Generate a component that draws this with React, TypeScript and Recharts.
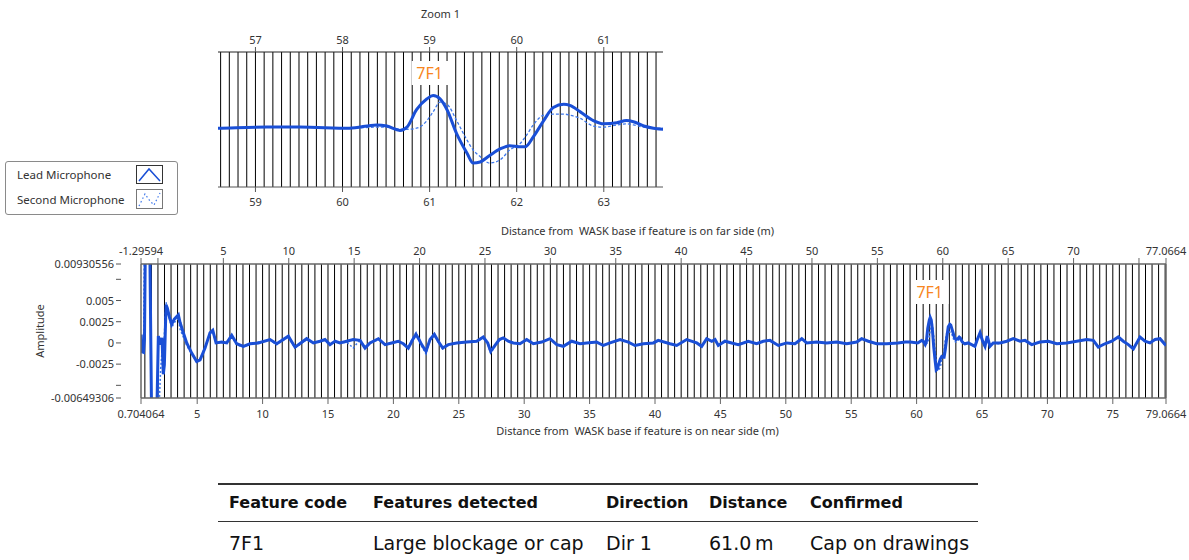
import { LineChart, Line, XAxis, YAxis, CartesianGrid, ReferenceLine, Label } from 'recharts';

// distance from WASK base, near side (m)
const distance = [
    0.72, 0.78, 0.9, 0.97, 1.05, 1.36, 1.52, 1.9, 2.03, 2.21, 2.31, 2.41, 2.49, 2.62, 2.72, 2.87, 3.05, 3.25, 3.56, 3.69, 3.94, 4.2, 4.58, 4.96, 5.22, 5.6, 5.98, 6.19, 6.44, 6.87, 7.26, 7.64, 8.02, 8.53, 9.04, 9.67,
    10.57, 11.08, 11.97, 12.48, 13.37, 13.88, 14.39, 14.77, 15.15, 15.54, 15.92, 16.43, 16.93, 17.45, 17.83, 18.21, 18.85, 19.36, 19.87,
    20.37, 20.76, 21.14, 21.48, 21.73, 21.96, 22.16, 22.49, 22.8, 23.13, 23.43, 23.77, 24.2, 24.84, 25.6, 26.37, 26.87, 27.21, 27.44, 27.77, 28.1, 28.4, 28.78, 29.17, 29.68,
    30.19, 30.7, 31.34, 31.97, 32.49, 32.99, 33.63, 34.27, 34.78, 35.54, 36.05, 36.56, 37.33, 37.96, 38.47, 39.11, 39.87,
    40.25, 41.15, 41.66, 42.42, 43.19, 43.57, 43.95, 44.34, 44.59, 44.84, 45.35, 45.86, 46.37, 47.13, 47.77, 48.28, 48.79, 49.43,
    50.07, 50.7, 51.22, 51.6, 52.36, 53.13, 53.89, 54.66, 55.42, 55.8, 56.31, 56.95, 57.71,
    58.57, 59.13, 59.51, 60.08, 60.39, 60.51, 60.66, 60.74, 60.85, 60.97, 61.04, 61.12, 61.2, 61.31, 61.43, 61.5, 61.58, 61.69, 61.81, 61.92, 62.04, 62.1, 62.19, 62.31, 62.42, 62.54, 62.61, 62.73, 62.88, 63.0, 63.15, 63.26, 63.34, 63.46, 63.57, 63.68,
    63.95, 64.46, 64.64, 64.85, 65.05, 65.23, 65.4, 65.61, 65.86, 66.38, 66.89, 67.39, 67.91, 68.29, 68.8, 69.43,
    70.07, 70.71, 71.48, 72.24, 73.0, 73.51, 73.89, 74.4, 74.92, 75.42, 75.8, 76.19, 76.57, 77.08, 77.46, 77.84, 78.23, 78.61, 79.06,
];

const leadMic = [
    0.001, -0.001, -0.0011, 0.0004, 0.014, 0.014, -0.0095, -0.0095, 0.0008, -0.0002, 0.0006, -0.0037, -0.0026, 0.0045, 0.0041, 0.0031, 0.0022, 0.0028, 0.0033, 0.0024, 0.0012, 0, -0.0012, -0.0022, -0.002, -0.0006, 0.0012, 0.0015, 0, 0.0001, 0, 0.0009, -0.0001, -0.0004, -0.0001, 0,
    0.0004, -0.0001, 0.0008, -0.0005, 0.0005, 0, 0.0002, 0.0004, -0.0002, 0.0002, 0, 0.0002, 0.0004, 0.0003, -0.0006, 0, 0.0005, -0.0002, 0,
    0.0002, -0.0001, -0.0006, 0.0004, 0.001, 0.0004, -0.0002, -0.001, 0.0004, 0.001, 0.0002, -0.0006, -0.0002, 0, 0.0001, 0.0002, 0.0007, 0, -0.001, -0.0003, 0.0004, 0.0006, 0.0002, 0, -0.0001,
    0.0004, -0.0001, 0.0001, 0.0005, -0.0002, -0.0004, 0.0002, -0.0001, 0, 0.0001, -0.0003, 0, 0.0004, 0.0001, -0.0003, -0.0001, 0,
    0.0003, -0.0001, -0.0003, 0.0004, 0, -0.0004, 0.0005, 0.0002, 0.0004, -0.0003, 0.0002, 0, -0.0002, 0.0002, -0.0001, 0.0002, 0.0003, -0.0003,
    0, -0.0001, 0.0005, 0, 0.0001, 0, 0.0001, -0.0001, 0.0001, 0.0005, 0.0002, -0.0001, -0.0001,
    0, 0.0001, 0.0001, 0, 0.0003, 0.0002, -0.0002, 0.0001, 0.0017, 0.0027, 0.003, 0.0027, 0.0017, -0.0005, -0.0023, -0.0032, -0.0031, -0.0025, -0.0019, -0.0016, -0.0017, -0.0017, -0.0008, 0.0007, 0.0019, 0.0022, 0.0021, 0.0015, 0.0007, 0.0004, 0.0005, 0.0007, 0.0006, 0.0002, 0, -0.0001,
    0, -0.0004, 0.0004, 0.0012, 0.0002, -0.0004, 0.0008, -0.0004, 0, 0, 0.0002, 0.0005, 0.0002, 0.0003, -0.0002, 0.0001,
    0.0002, -0.0001, 0, 0.0002, 0.0004, 0.0003, -0.0005, -0.0001, 0.0002, 0.0007, 0.0002, -0.0002, -0.0007, 0.0007, 0.0002, 0, 0.0004, 0.0005, -0.0003,
];

const secondMic = [
    0.0008, -0.0012, -0.0008, 0.014, 0.014, 0.014, -0.0095, -0.0095, -0.0095, -0.003, -0.001, -0.0032, 0.001, 0.0048, 0.0038, 0.0029, 0.0018, 0.0024, 0.0029, 0.0016, 0.0007, -0.0003, -0.0013, -0.0021, -0.0019, -0.0005, 0.0011, 0.0013, 0.0001, 0, 0.0001, 0.0008, -0.0002, -0.0005, -0.0001, 0.0001,
    0.0003, -0.0002, 0.0007, -0.0006, 0.0004, 0, 0.0002, 0.0003, -0.0003, 0.0002, 0, 0.0001, -0.0006, 0.0004, -0.0005, 0, 0.0004, -0.0002, 0.0001,
    0.0002, -0.0001, -0.0005, 0.0006, 0.0012, 0.0003, -0.0004, -0.0013, 0.0003, 0.0011, 0.0001, -0.0007, -0.0002, 0, 0.0001, 0.0002, 0.0006, -0.0002, -0.0012, -0.0004, 0.0003, 0.0006, 0.0002, 0, -0.0001,
    0.0003, -0.0001, 0.0001, 0.0005, -0.0002, -0.0005, 0.0002, -0.0001, 0, 0.0001, -0.0003, 0, 0.0004, 0.0001, -0.0003, -0.0001, 0,
    0.0003, -0.0001, -0.0003, 0.0004, 0, -0.0004, 0.0004, 0.0002, 0.0004, -0.0003, 0.0002, 0, -0.0002, 0.0002, -0.0001, 0.0002, 0.0003, -0.0003,
    0, -0.0002, 0.0005, 0, 0.0001, 0, 0.0001, -0.0001, 0.0001, 0.0005, 0.0002, -0.0001, -0.0001,
    0, 0.0001, 0.0001, 0, 0.0001, 0.0001, -0.0001, -0.0001, 0, 0.0007, 0.0015, 0.0024, 0.0022, 0.0007, -0.0011, -0.002, -0.0026, -0.0032, -0.0029, -0.002, -0.0014, -0.0008, 0.0003, 0.0012, 0.0013, 0.0013, 0.0012, 0.0009, 0.0002, 0.0001, 0.0003, 0.0004, 0.0003, 0.0001, 0, 0,
    0, -0.0005, 0.0003, 0.001, 0.0001, -0.0006, 0.0007, -0.0003, 0, -0.0001, 0.0002, 0.0005, 0.0002, 0.0003, -0.0002, 0.0001,
    0.0002, -0.0001, 0, 0.0002, 0.0004, 0.0003, -0.0004, -0.0001, 0.0002, 0.0006, 0.0002, -0.0002, -0.0006, 0.0006, 0.0002, 0, 0.0004, 0.0005, -0.0004,
];

// axes
const nearDomain: [number, number] = [0.704064, 79.0664];
const farDomain: [number, number] = [-1.29594, 77.0664];
const nearTicks = [0.704064, 5, 10, 15, 20, 25, 30, 35, 40, 45, 50, 55, 60, 65, 70, 75, 79.0664];
const farTicks = [-1.29594, 0, 5, 10, 15, 20, 25, 30, 35, 40, 45, 50, 55, 60, 65, 70, 75, 77.0664];
const farTicksUnlabelled = [0, 75];
const ampDomain: [number, number] = [-0.00649306, 0.00930556];
const ampTicks = [-0.00649306, -0.005, -0.0025, 0, 0.0025, 0.005, 0.0075, 0.00930556];
const ampTicksUnlabelled = [-0.005, 0.0075];

const zoomNearDomain: [number, number] = [58.57, 63.68];
const zoomFarDomain: [number, number] = [56.57, 61.68];
const zoomNearTicks = [59, 60, 61, 62, 63];
const zoomFarTicks = [57, 58, 59, 60, 61];
const zoomAmpDomain: [number, number] = [-0.0054, 0.007];

const featureCode = '7F1';
const featureDistance = 61.0;

const tableHeaders = ['Feature code', 'Features detected', 'Direction', 'Distance', 'Confirmed'];
const tableRow = ['7F1', 'Large blockage or cap', 'Dir 1', '61.0\u2009m', 'Cap on drawings'];

// pipe markers every 0.5 m on the main trace, every 0.1 m in the zoom
const mainGrid = Array.from({ length: 157 }, (_, i) => 1 + i * 0.5);
const zoomGrid = Array.from({ length: 51 }, (_, i) => Math.round(586 + i) / 10);

const rows = distance.map((d, i) => ({ distance: d, lead: leadMic[i], second: secondMic[i] }));

const FONT = '"Noto Sans", "DejaVu Sans", sans-serif';
const LEAD = '#1a4fd6';
const SECOND = '#3f78ea';
const ORANGE = '#f7861f';
const tickStyle = { fontSize: 11, fill: '#333', fontFamily: FONT };

const AmpTick = (props: any) => {
    const { x, y, payload } = props;
    const v = payload.value;
    return (
        <g>
            <line x1={x - 25} x2={x - 20} y1={y} y2={y} stroke="#555" />
            {!ampTicksUnlabelled.includes(v) && (
                <text x={x - 27} y={y} dy={4} textAnchor="end" fontSize={11} fill="#333" fontFamily={FONT}>
                    {String(v)}
                </text>
            )}
        </g>
    );
};

const VerticalTitle = (props: any) => {
    const { viewBox, text, shift } = props;
    const cx = viewBox.x + viewBox.width + shift;
    const cy = viewBox.y + viewBox.height / 2;
    return (
        <text x={cx} y={cy} dy={4} transform={`rotate(-90, ${cx}, ${cy})`} textAnchor="middle" fontSize={11} fill="#333" fontFamily={FONT}>
            {text}
        </text>
    );
};

const FeatureLabel = (props: any) => {
    const { viewBox, code, drop } = props;
    const cx = viewBox.x;
    const cy = viewBox.y + drop;
    return (
        <g>
            <rect x={cx - 18} y={cy - 12} width={37} height={24} fill="#fff" />
            <text x={cx} y={cy} dy={6} textAnchor="middle" fontSize={16} fill={ORANGE} fontFamily={FONT}>
                {code}
            </text>
        </g>
    );
};

const ZoomChart = () => (
    <LineChart width={1189} height={215} data={rows} margin={{ top: 22, right: 526, bottom: 0, left: 218 }}>
        <CartesianGrid xAxisId="near" horizontal={false} verticalValues={zoomGrid} stroke="#000" strokeWidth={1} />
        <XAxis
            xAxisId="far"
            orientation="top"
            dataKey="distance"
            type="number"
            domain={zoomFarDomain}
            allowDataOverflow
            ticks={zoomFarTicks}
            interval={0}
            height={30}
            tickSize={5}
            tickMargin={3}
            tick={tickStyle}
            tickLine={{ stroke: '#555' }}
            axisLine={{ stroke: '#222' }}
        >
            <Label value="Zoom 1" position="top" offset={4} fontSize={11} fill="#333" fontFamily={FONT} />
        </XAxis>
        <XAxis
            xAxisId="near"
            dataKey="distance"
            type="number"
            domain={zoomNearDomain}
            allowDataOverflow
            ticks={zoomNearTicks}
            interval={0}
            height={28}
            tickSize={5}
            tickMargin={6}
            tick={tickStyle}
            tickLine={{ stroke: '#555' }}
            axisLine={{ stroke: '#555' }}
        />
        <YAxis hide domain={zoomAmpDomain} allowDataOverflow />
        <Line xAxisId="near" type="monotone" dataKey="second" stroke={SECOND} strokeWidth={1.3} strokeDasharray="3 2" dot={false} isAnimationActive={false} />
        <Line xAxisId="near" type="monotone" dataKey="lead" stroke={LEAD} strokeWidth={3} dot={false} isAnimationActive={false} />
        <ReferenceLine xAxisId="near" x={featureDistance} strokeOpacity={0} label={<FeatureLabel code={featureCode} drop={21} />} />
    </LineChart>
);

const MainChart = () => (
    <LineChart width={1189} height={225} data={rows} margin={{ top: 14, right: 23, bottom: 5, left: 81 }}>
        <CartesianGrid xAxisId="near" horizontal={false} verticalValues={mainGrid} stroke="#000" strokeWidth={1} />
        <XAxis
            xAxisId="far"
            orientation="top"
            dataKey="distance"
            type="number"
            domain={farDomain}
            allowDataOverflow
            ticks={farTicks}
            interval={0}
            height={30}
            tickSize={6}
            tickMargin={3}
            tick={tickStyle}
            tickLine={{ stroke: '#666' }}
            axisLine={{ stroke: '#666', strokeWidth: 1.5 }}
            tickFormatter={(v: number) => (farTicksUnlabelled.includes(v) ? '' : String(v))}
        >
            <Label value={'Distance from\u00a0 WASK base if feature is on far side (m)'} position="insideTop" offset={-7} dx={-16} fontSize={11} fill="#333" fontFamily={FONT} />
        </XAxis>
        <XAxis
            xAxisId="near"
            dataKey="distance"
            type="number"
            domain={nearDomain}
            allowDataOverflow
            ticks={nearTicks}
            interval={0}
            height={42}
            tickSize={6}
            tickMargin={6}
            tick={tickStyle}
            tickLine={{ stroke: '#666' }}
            axisLine={{ stroke: '#666', strokeWidth: 1.5 }}
            tickFormatter={(v: number) => String(v)}
        >
            <Label value={'Distance from\u00a0 WASK base if feature is on near side (m)'} position="insideBottom" offset={5} dx={-16} fontSize={11} fill="#333" fontFamily={FONT} />
        </XAxis>
        <YAxis
            domain={ampDomain}
            allowDataOverflow
            ticks={ampTicks}
            interval={0}
            width={60}
            tickLine={false}
            tickSize={0}
            tickMargin={0}
            tick={<AmpTick />}
            axisLine={{ stroke: '#666', strokeWidth: 1.5 }}
        >
            <Label content={<VerticalTitle text="Amplitude" shift={-101} />} />
        </YAxis>
        <ReferenceLine xAxisId="near" x={nearDomain[1]} stroke="#666" strokeWidth={1.5} />
        <Line xAxisId="near" dataKey="second" stroke={SECOND} strokeWidth={1.5} strokeDasharray="2 2" dot={false} isAnimationActive={false} />
        <Line xAxisId="near" dataKey="lead" stroke={LEAD} strokeWidth={3} dot={false} isAnimationActive={false} />
        <ReferenceLine xAxisId="near" x={featureDistance} strokeOpacity={0} label={<FeatureLabel code={featureCode} drop={28} />} />
    </LineChart>
);

const LegendBox = () => (
    <div style={{ position: 'absolute', left: 5, top: 161, width: 171, height: 52, border: '1px solid #8a8a8a', borderRadius: 3, background: '#fff', fontFamily: FONT, fontSize: 11.5, color: '#333' }}>
        <span style={{ position: 'absolute', left: 11, top: 5, lineHeight: '16px' }}>Lead Microphone</span>
        <svg style={{ position: 'absolute', left: 130, top: 3 }} width={27} height={20}>
            <rect x={0.5} y={0.5} width={26} height={18} fill="#fff" stroke="#333" />
            <polyline points="3,16 13,4 24,16" fill="none" stroke={LEAD} strokeWidth={1.5} />
        </svg>
        <span style={{ position: 'absolute', left: 11, top: 30, lineHeight: '16px' }}>Second Microphone</span>
        <svg style={{ position: 'absolute', left: 130, top: 27 }} width={27} height={21}>
            <rect x={0.5} y={0.5} width={26} height={19} fill="#fff" stroke="#777" />
            <polyline points="3,17 9,5 14,12 18,16 24,4" fill="none" stroke={SECOND} strokeWidth={1.2} strokeDasharray="1.5 2.5" />
        </svg>
    </div>
);

const colLeft = [229, 373, 606, 709, 810];

const FeatureTable = () => (
    <div style={{ position: 'absolute', left: 0, top: 0, width: 1189, height: 560, fontFamily: '"DejaVu Sans", sans-serif', color: '#111' }}>
        <div style={{ position: 'absolute', left: 218, top: 483, width: 760, height: 2, background: '#333' }} />
        {tableHeaders.map((h, i) => (
            <div key={h} style={{ position: 'absolute', left: colLeft[i], top: 492, fontSize: 16, fontWeight: 700, lineHeight: '22px', whiteSpace: 'nowrap' }}>
                {h}
            </div>
        ))}
        <div style={{ position: 'absolute', left: 218, top: 521, width: 760, height: 1, background: '#333' }} />
        {tableRow.map((c, i) => (
            <div key={i} style={{ position: 'absolute', left: colLeft[i], top: 531, fontSize: 19, lineHeight: '24px', whiteSpace: 'nowrap' }}>
                {c}
            </div>
        ))}
    </div>
);

export default function App() {
    return (
        <div style={{ position: 'absolute', left: 0, top: 0, width: 1189, height: 560, background: '#fff', overflow: 'hidden' }}>
            <FeatureTable />
            <div style={{ position: 'absolute', left: 0, top: 0 }}>
                <ZoomChart />
            </div>
            <div style={{ position: 'absolute', left: 0, top: 220 }}>
                <MainChart />
            </div>
            <LegendBox />
        </div>
    );
}
